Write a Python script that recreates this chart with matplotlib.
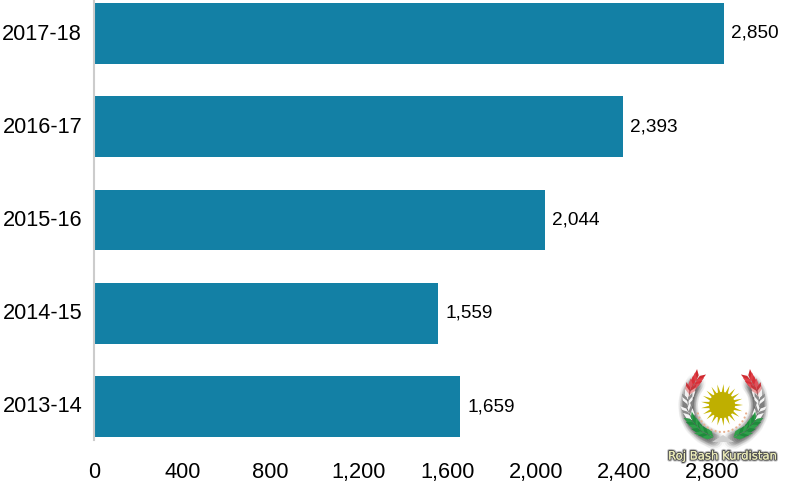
import numpy as np
import matplotlib
matplotlib.use("Agg")
import matplotlib.pyplot as plt
from matplotlib.patches import Polygon, Circle
import matplotlib.patheffects as pe
from matplotlib.transforms import ScaledTranslation

years = ["2013-14", "2014-15", "2015-16", "2016-17", "2017-18"]
values = [1659, 1559, 2044, 2393, 2850]
xticks = [0, 400, 800, 1200, 1600, 2000, 2400, 2800]
logo_text = "Roj Bash Kurdistan"

plt.rcParams["font.family"] = ["Liberation Sans", "DejaVu Sans"]
W, H = 789, 482
fig = plt.figure(figsize=(W/100, H/100), dpi=100, facecolor="white")
left, right = 93.8, 789
top, bottom = 0, 440
ax = fig.add_axes([left/W, 1-bottom/H, (right-left)/W, (bottom-top)/H])
ax.barh(range(5), values, height=0.654, color="#1380A5", linewidth=0)
ax.set_xlim(0, 3146)
ax.set_ylim(-33.5/93.25, 4 + 33.5/93.25)
ax.set_yticks(range(5), years, fontsize=15.7)
ax.set_xticks(xticks, [f"{v:,}" for v in xticks], fontsize=15.7)
ax.tick_params(length=0, pad=8.4, axis="y")
ax.tick_params(length=0, pad=15.5, axis="x", colors="black")
for lab in ax.get_yticklabels():
    lab.set_transform(lab.get_transform() + ScaledTranslation(0, 2/100, fig.dpi_scale_trans))
for s in ["top", "right", "bottom"]:
    ax.spines[s].set_visible(False)
ax.spines["left"].set_color("#CCCCCC")
ax.spines["left"].set_linewidth(1.5)
for i, v in enumerate(values):
    ax.annotate(f"{v:,}", (v, i), xytext=(5, 0), textcoords="offset points",
                va="center", ha="left", fontsize=13.7)

# emblem watermark, drawn in figure pixel coordinates
lg = fig.add_axes([0, 0, 1, 1], facecolor="none")
lg.set_xlim(0, W)
lg.set_ylim(H, 0)
lg.axis("off")
cx, cy = 722, 405
mid = 723.5
path_x = np.array([696, 690, 688, 689, 694, 703, 715])
path_y = np.array([381, 391, 402, 413, 423, 432, 438])
u = np.linspace(0, 1, len(path_x))

def along(s):
    x = np.interp(s, u, path_x)
    y = np.interp(s, u, path_y)
    e = 0.02
    dx = np.interp(s + e, u, path_x) - np.interp(s - e, u, path_x)
    dy = np.interp(s + e, u, path_y) - np.interp(s - e, u, path_y)
    return x, y, np.degrees(np.arctan2(dy, dx))

def leaf(x, y, ang, length, width, color, z=3):
    a = np.radians(ang)
    ux, uy = np.cos(a), np.sin(a)
    vx, vy = -uy, ux
    pts = [(x, y),
           (x + ux*length/2 + vx*width/2, y + uy*length/2 + vy*width/2),
           (x + ux*length, y + uy*length),
           (x + ux*length/2 - vx*width/2, y + uy*length/2 - vy*width/2)]
    lg.add_patch(Polygon(pts, closed=True, fc=color, ec="none", zorder=z))

# soft shadow behind the wreath
for s in np.linspace(0, 1, 40):
    x, y, _ = along(s)
    for side in (0, 1):
        px = 2*mid - x if side else x
        for r, al in [(10, 0.02), (8, 0.035), (6, 0.05)]:
            lg.add_patch(Circle((px, y + 2), r, fc="black", alpha=al, ec="none", zorder=1))

# wreath: red on top, white and grey in the middle, green at the base
colors = ["#D02A30", "#E04048", "#D83038", "#E0505A", "#C8343A", "#E8A0A0",
          "#F0F0F0", "#8A8A8A", "#F4F4F4", "#808080", "#F4F4F4", "#8A8A8A", "#F4F4F4",
          "#2C9A48", "#1F8A3C", "#2FA04A", "#1F8A3C", "#2FA04A", "#1F8A3C", "#2FA04A"]
for side in (-1, 1):
    for s, col in zip(np.linspace(0.0, 0.98, len(colors)), colors):
        x, y, ang = along(s)
        if side == 1:
            x = 2*mid - x
            ang = 180 - ang
        back = ang + 180
        leaf(x, y, back + 26, 12, 4.4, col)
        leaf(x, y, back - 26, 12, 4.4, col)

# base triangle
lg.add_patch(Polygon([(712, 442), (723, 435), (734, 442)], closed=True,
                     fc="#CFCFCF", ec="none", zorder=4))

# sun
n_rays = 21
for ang in np.arange(n_rays) * 360 / n_rays:
    a = np.radians(ang)
    b = np.radians(360 / n_rays / 2.6)
    r0, r1 = 12, 21
    lg.add_patch(Polygon([(cx + r0*np.cos(a-b), cy + r0*np.sin(a-b)),
                          (cx + r1*np.cos(a), cy + r1*np.sin(a)),
                          (cx + r0*np.cos(a+b), cy + r0*np.sin(a+b))],
                         closed=True, fc="#C4B400", ec="none", zorder=5))
lg.add_patch(Circle((cx, cy), 13, fc="#BFAF00", ec="none", zorder=5))

# ring of small dots under the sun
for t in np.linspace(15, 165, 16):
    a = np.radians(t)
    lg.add_patch(Circle((cx + 25*np.cos(a), cy + 2 + 25*np.sin(a)), 1.1,
                        fc="#E8B090", ec="none", zorder=4))

lg.text(722.5, 456, logo_text, ha="center", va="center", fontsize=8.4, color="#ECECB8",
        family=["DejaVu Sans"], zorder=6,
        path_effects=[pe.withStroke(linewidth=3, foreground="#C8C8C8"),
                      pe.withStroke(linewidth=1.6, foreground="#555555"),
                      pe.Normal()])
fig.savefig("out.png", dpi=100)
